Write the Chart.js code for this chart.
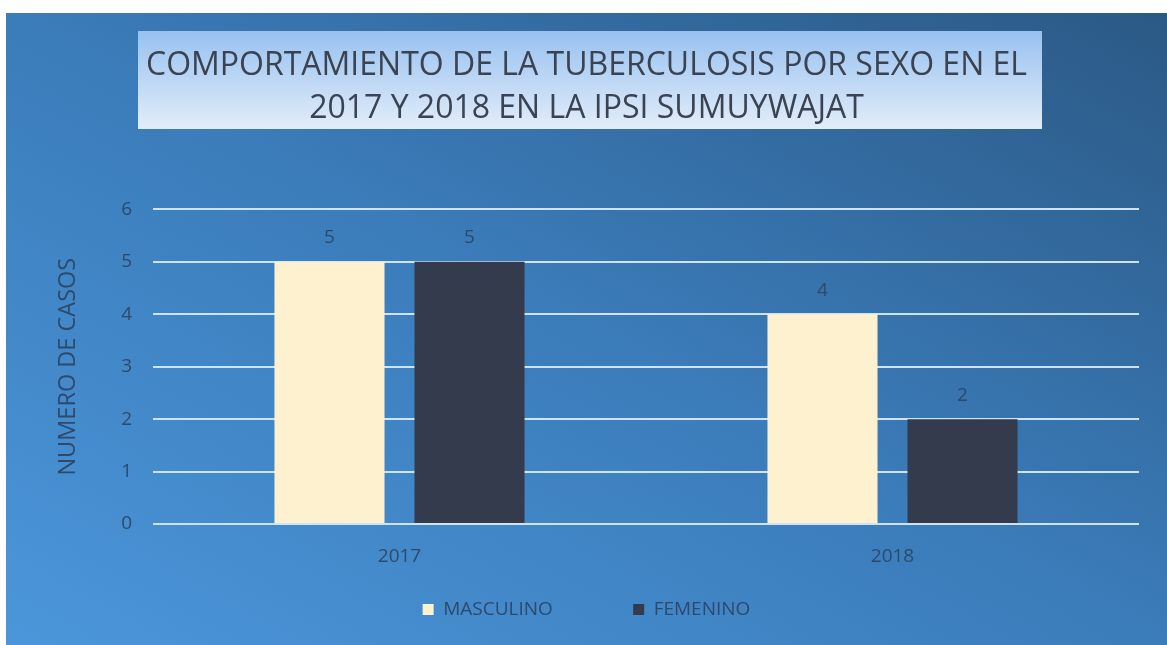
<!DOCTYPE html>
<html>
<head>
<meta charset="utf-8">
<script src="https://cdn.jsdelivr.net/npm/chart.js@4"></script>
<style>
  body { margin: 0; background: #fff; }
  .wrap {
    position: absolute; left: 6px; top: 13px; width: 1161px; height: 632px;
    background: linear-gradient(to top right, #4b96da 0%, #3b7cba 50%, #2b5985 100%);
  }
</style>
</head>
<body>
<div class="wrap"><canvas id="chart" width="1161" height="632"></canvas></div>
<script>
// datos
const years = ['2017', '2018'];
const masculino = [5, 4];
const femenino = [5, 2];
const yTicks = [0, 1, 2, 3, 4, 5, 6];

const txtColor = '#2c4a6c';
const fontFam = '"Open Sans"';

// caja del titulo
const titleBox = {
  id: 'titleBox',
  beforeDraw(chart) {
    const ctx = chart.ctx;
    const g = ctx.createLinearGradient(0, 18, 0, 116);
    g.addColorStop(0, '#98c1f0');
    g.addColorStop(1, '#e2edf9');
    ctx.save();
    ctx.fillStyle = g;
    ctx.fillRect(132, 18, 904, 98);
    ctx.restore();
  }
};

// etiquetas de valores
const valueLabels = {
  id: 'valueLabels',
  afterDatasetsDraw(chart) {
    const ctx = chart.ctx;
    ctx.save();
    ctx.font = '19px ' + fontFam;
    ctx.fillStyle = txtColor;
    ctx.textAlign = 'center';
    ctx.textBaseline = 'middle';
    chart.data.datasets.forEach((ds, i) => {
      chart.getDatasetMeta(i).data.forEach((bar, j) => {
        ctx.fillText(ds.data[j], bar.x, bar.y - 24);
      });
    });
    ctx.restore();
  }
};

new Chart(document.getElementById('chart'), {
  type: 'bar',
  data: {
    labels: years,
    datasets: [
      { label: 'MASCULINO', data: masculino, backgroundColor: '#fdf1cf' },
      { label: 'FEMENINO', data: femenino, backgroundColor: '#333b4d' }
    ]
  },
  options: {
    responsive: false,
    animation: false,
    layout: { padding: { left: 0, right: 0, top: 0, bottom: 16 } },
    datasets: { bar: { categoryPercentage: 0.568, barPercentage: 0.786 } },
    plugins: {
      title: {
        display: true,
        text: ['COMPORTAMIENTO DE LA TUBERCULOSIS POR SEXO EN EL', '2017 Y 2018 EN LA IPSI SUMUYWAJAT'],
        color: '#3a4352',
        font: { family: fontFam, size: 32, weight: 'normal', lineHeight: 1.35 },
        padding: { top: 31, bottom: 79 }
      },
      legend: {
        position: 'bottom',
        labels: {
          color: txtColor,
          font: { family: fontFam, size: 19 },
          boxWidth: 11, boxHeight: 11,
          padding: 31,
          // un poco mas de espacio entre los dos items
          generateLabels: chart => {
            const items = Chart.defaults.plugins.legend.labels.generateLabels(chart);
            items[0].text += '          ';
            return items;
          }
        }
      },
      tooltip: { enabled: false }
    },
    scales: {
      x: {
        afterFit: s => { s.height = 45; },
        grid: { display: false },
        border: { display: false },
        ticks: { color: txtColor, font: { family: fontFam, size: 19 }, padding: 13 }
      },
      y: {
        min: 0, max: 6,
        afterBuildTicks: s => { s.ticks = yTicks.map(v => ({ value: v })); },
        afterFit: s => { s.width = 147; },
        grid: { color: 'rgba(215,232,250,0.95)', lineWidth: 2, drawTicks: false },
        border: { display: false },
        ticks: { color: txtColor, font: { family: fontFam, size: 19 }, padding: 21 },
        title: {
          display: true, text: 'NUMERO DE CASOS', color: txtColor,
          font: { family: fontFam, size: 23.5 },
          padding: { top: 48, bottom: 0 }
        }
      },
      // eje vacio para dejar margen a la derecha
      yRight: {
        position: 'right',
        min: 0, max: 1,
        afterFit: s => { s.width = 28; },
        grid: { display: false },
        border: { display: false },
        ticks: { display: false }
      }
    }
  },
  plugins: [titleBox, valueLabels]
});
</script>
</body>
</html>
